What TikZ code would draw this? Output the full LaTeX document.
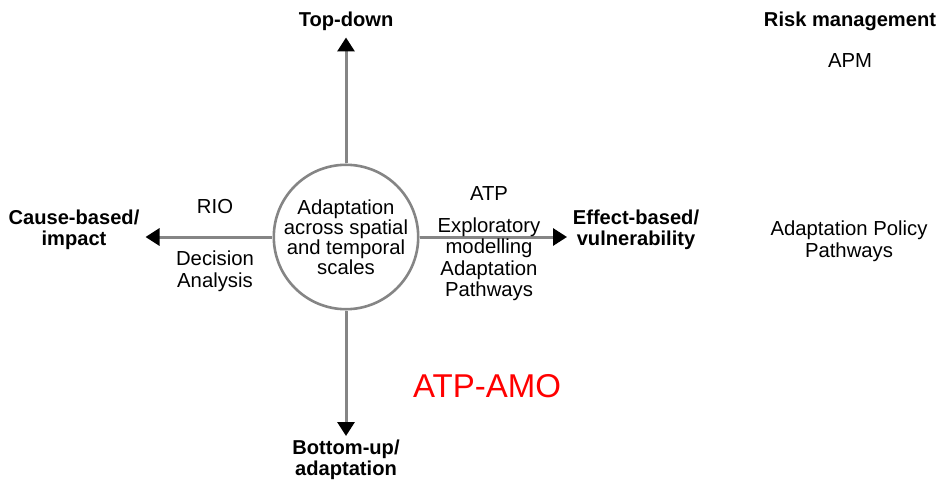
\documentclass[tikz,border=0pt]{standalone}
\usepackage{fontspec}
\setmainfont{Liberation Sans}
\usetikzlibrary{arrows.meta}
\definecolor{axisgray}{HTML}{858585}
\tikzset{
  axis/.style={draw=axisgray, line width=3pt,
    -{Triangle[length=14pt,width=17pt,color=black]}},
  hubcircle/.style={circle, draw=axisgray, line width=2.6pt, fill=white,
    minimum size=140pt, inner sep=0pt, align=center,
    font=\fontsize{20.3}{20}\selectfont},
  pole/.style={align=center, font=\fontsize{20.1}{21.5}\selectfont\bfseries},
  method/.style={align=center, font=\fontsize{20.3}{21.5}\selectfont},
}
\begin{document}
\begin{tikzpicture}[x=1pt,y=-1pt]
  \useasboundingbox (0,0) rectangle (944,484);

  % central hub
  \node[hubcircle] (hub) at (346,237) {Adaptation\\across spatial\\and temporal\\scales};

  % arrow end points
  \coordinate (tipN) at (346,37.5);
  \coordinate (tipS) at (346,436);
  \coordinate (tipW) at (145.5,237);
  \coordinate (tipE) at (567,237);

  \draw[axis] (hub.north) -- (tipN);
  \draw[axis] (hub.south) -- (tipS);
  \draw[axis] (hub.west) -- (tipW);
  \draw[axis] (hub.east) -- (tipE);

  % pole labels
  \node[pole] (top) at (346,21) {Top-down};
  \node[pole] (bottom) at (346,460) {Bottom-up/\\adaptation};
  \node[pole] (cause) at (74,230) {Cause-based/\\impact};
  \node[pole] (effect) at (636,230) {Effect-based/\\vulnerability};
  \node[pole] (risk) at (850,21) {Risk management};

  % methods
  \node[method] (rio) at (215,207) {RIO};
  \node[method] (da) at (215,271) {Decision\\Analysis};
  \node[method] (atp) at (489,194) {ATP};
  \node[method] (expl) at (489,259) {Exploratory\\modelling\\Adaptation\\Pathways};
  \node[method] (apm) at (850,61) {APM};
  \node[method] (app) at (849,241) {Adaptation Policy\\Pathways};

  \node[font=\fontsize{33}{36}\selectfont, text=red] (amo) at (487,386) {ATP-AMO};
\end{tikzpicture}
\end{document}
